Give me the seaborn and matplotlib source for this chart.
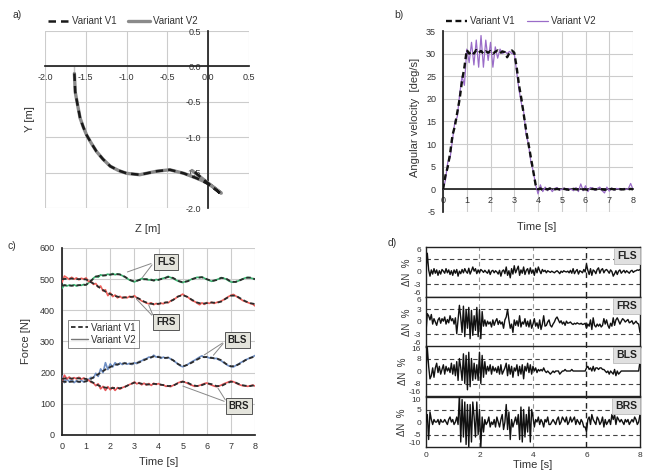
import numpy as np
import matplotlib
matplotlib.use("Agg")
import matplotlib.pyplot as plt
from matplotlib.lines import Line2D
import seaborn as sns

# a) trajectory  Z [m] / Y [m]
traj_z_v1 = [-1.64, -1.64, -1.63, -1.60, -1.57, -1.53, -1.49, -1.43, -1.37, -1.29, -1.20,
             -1.10, -1.00, -0.84, -0.63, -0.47, -0.30, -0.14, -0.02, 0.08, 0.165, -0.18]
traj_y_v1 = [0.0, -0.20, -0.36, -0.55, -0.73, -0.86, -0.97, -1.09, -1.20, -1.31, -1.41,
             -1.47, -1.51, -1.53, -1.48, -1.46, -1.51, -1.58, -1.65, -1.73, -1.81, -1.48]
traj_z_v2 = [-1.64, -1.64, -1.63, -1.60, -1.57, -1.53, -1.49, -1.43, -1.37, -1.29, -1.20,
             -1.10, -1.00, -0.84, -0.63, -0.47, -0.30, -0.14, -0.02, 0.08, 0.16, -0.20]
traj_y_v2 = [0.0, -0.20, -0.36, -0.55, -0.73, -0.86, -0.97, -1.09, -1.20, -1.31, -1.41,
             -1.47, -1.51, -1.53, -1.48, -1.46, -1.51, -1.58, -1.64, -1.72, -1.79, -1.47]

# b) angular velocity [deg/s], every 0.1 s
omega_v1 = [0, 3, 5, 8, 12, 14, 17, 20, 24, 27,
            30.8, 30, 30.5, 30, 30.8, 30.2, 30.6, 30, 30.5, 30.2,
            30.6, 30, 30.4, 30.7, 30.1, 30.5, 30.3, 29.2, 30.2, 30.7,
            30.2, 27, 23, 20, 16.5, 13, 10, 7, 4, 1,
            0, 0.2, -0.2, 0.1, 0, 0.2, -0.1, 0, 0.1, 0,
            0, 0.1, 0, -0.1, 0, 0.1, 0, 0, 0.1, 0,
            0, -0.1, 0, 0.1, 0, 0, 0.1, 0, -0.1, 0,
            0, 0.1, 0, 0, 0.1, 0, 0, 0.1, 0, 0.1,
            0]
omega_v2 = [0, 2, 6, 7, 11, 15, 16, 21, 25, 23,
            31, 28, 32.5, 27.5, 33, 27, 34, 27, 33, 28.5,
            32.5, 27, 31.5, 29, 31, 30, 30.5, 30, 30.5, 30,
            30, 26, 22, 19, 17, 12, 10, 6, 4, 1,
            -1, 1, -0.5, 0.5, -0.3, 0.3, -0.5, 0.2, 0.4, -0.2,
            0, 0.3, -0.2, 0.2, 0, -0.3, 0.4, -0.5, 1.2, -0.3,
            0.8, -0.5, 0.4, 0.3, -0.2, 0.2, 0.5, -0.3, -0.8, 0.5,
            -0.4, 0.3, -0.2, 0.2, 0.1, -0.1, 0.2, 0, 0.1, 1.3,
            0]

# c) wheel forces [N]; V1 every 0.2 s, V2 every 0.1 s
fls_v1 = [480, 480, 479, 480, 481, 482, 495, 508, 512, 512, 515, 516, 515, 508, 498, 492,
          497, 500, 498, 496, 498, 502, 507, 504, 495, 490, 493, 500, 505, 506, 500, 494,
          497, 504, 502, 492, 491, 497, 504, 505, 500]
frs_v1 = [500, 501, 502, 500, 500, 499, 490, 482, 470, 460, 452, 446, 442, 441, 443, 444,
          437, 428, 422, 420, 421, 424, 426, 433, 444, 449, 443, 433, 425, 421, 423, 425,
          424, 428, 438, 447, 447, 438, 429, 423, 420]
bls_v1 = [172, 170, 171, 172, 170, 172, 180, 190, 200, 210, 218, 225, 228, 230, 228, 230,
          233, 240, 247, 252, 250, 247, 248, 240, 228, 220, 225, 233, 242, 250, 250, 247,
          246, 240, 228, 220, 222, 230, 240, 247, 252]
brs_v1 = [180, 182, 181, 182, 181, 180, 172, 163, 156, 152, 150, 151, 150, 154, 162, 168,
          166, 163, 162, 164, 163, 160, 157, 158, 166, 171, 168, 160, 157, 160, 166, 163,
          157, 157, 165, 171, 168, 161, 158, 157, 160]
fls_v2 = [470, 482, 478, 481, 479, 482, 478, 481, 480, 483,
          481, 488, 494, 503, 509, 506, 514, 511, 513, 516,
          513, 518, 514, 517, 515, 511, 507, 502, 497, 494,
          491, 495, 498, 502, 499, 501, 497, 499, 495, 499,
          497, 501, 503, 505, 509, 505, 503, 498, 494, 491,
          489, 492, 494, 497, 501, 503, 506, 505, 507, 503,
          499, 496, 493, 495, 498, 501, 505, 503, 500, 495,
          491, 490, 492, 494, 498, 501, 504, 506, 504, 502,
          499]
frs_v2 = [490, 510, 505, 499, 506, 500, 504, 498, 503, 500,
          504, 492, 494, 483, 486, 474, 478, 462, 466, 447,
          456, 444, 449, 440, 445, 439, 443, 440, 445, 441,
          447, 440, 436, 430, 427, 423, 421, 424, 418, 422,
          419, 423, 421, 426, 424, 430, 434, 438, 444, 447,
          452, 446, 443, 437, 431, 428, 423, 418, 424, 419,
          425, 422, 426, 422, 425, 427, 430, 434, 439, 444,
          448, 451, 446, 441, 436, 431, 428, 425, 422, 420,
          414]
bls_v2 = [190, 168, 180, 170, 176, 168, 174, 169, 175, 170,
          174, 178, 185, 182, 198, 188, 212, 200, 232, 210,
          228, 218, 232, 224, 231, 226, 232, 227, 230, 226,
          232, 229, 236, 238, 243, 245, 250, 248, 256, 250,
          252, 246, 250, 246, 249, 244, 240, 234, 228, 222,
          219, 222, 226, 231, 236, 240, 245, 250, 254, 249,
          251, 247, 249, 245, 246, 241, 238, 232, 227, 222,
          220, 218, 223, 227, 232, 236, 241, 244, 248, 251,
          255]
brs_v2 = [170, 192, 180, 186, 179, 184, 180, 185, 179, 183,
          178, 176, 169, 167, 158, 164, 148, 156, 143, 155,
          145, 153, 143, 152, 147, 152, 155, 158, 162, 165,
          170, 164, 168, 161, 166, 160, 165, 159, 166, 162,
          165, 160, 161, 156, 157, 155, 159, 162, 167, 170,
          172, 169, 166, 162, 159, 156, 157, 159, 162, 165,
          167, 163, 160, 157, 155, 157, 160, 164, 167, 170,
          173, 171, 167, 163, 160, 158, 157, 156, 158, 160,
          157]

# d) relative difference dN [%], every 0.05 s
dn_fls = [0, 4.5, 0.5, -1, 0.5, -0.5, 0.8, -0.3, 0.5, -0.8, 0.3, -0.5, 0.6, 0.2, -0.3, 0.8, -0.2, 0.5, -0.6, 0.3,
          -0.8, 0.5, -0.3, 0.6, -1.0, 0.2, -0.4, 0.6, -0.2, 0.8, 0.1, -0.3, 0.9, -0.5, 0.3, 1.2, 0.2, 0.8, -0.4, 0.5,
          -0.2, 0.6, 0.3, -0.1, 0.4, 0.0, -0.3, 0.5, -0.6, 0.2, 0.4, -0.2, 0.3, 0.0, -0.5, 0.4, -1.0, 0.2, 0.5, -0.4,
          1.2, -0.8, 0.3, -1.4, 0.8, -0.5, 1.5, -0.2, 0.6, 1.4, -0.8, 0.5, -0.3, 1.2, -0.6, 0.4, 0.8, -0.5, 1.0, -0.3,
          0.5, -0.8, 0.9, -0.2, 1.2, 0.3, -0.4, 0.6, 0.1, 0.4, -0.2, 0.3, 0.1, -0.1, 0.2, 0.0, -0.2, 0.1, 0.3, 0.0,
          -0.4, 0.2, -0.1, 0.3, 0.1, 0.0, 0.2, -0.2, 0.4, -0.3, 0.8, -0.4, 0.2, 0.6, -0.5, 0.3, 0.1, -0.2, 0.6, 0.0,
          1.8, 0.4, -0.6, 0.8, -0.8, 0.5, 0.2, -0.4, 0.6, 1.0, -0.3, 0.5, 0.8, -0.2, 0.4, 0.6, 0.2, -0.3, 0.5, 0.1,
          -1.0, -0.4, 0.3, -0.6, 0.2, 0.5, -0.3, 0.1, 0.4, -0.2, 0.3, 0.0, -0.3, 0.2, 0.4, -0.1, 0.2, 0.3, 0.5, 0.4,
          0.6]
dn_frs = [-2.5, 2.0, 1.5, 0.5, 1.8, -0.5, 0.8, 0.0, -0.8, 0.5, 1.0, -0.3, 0.8, 0.2, 1.2, -0.5, 0.6, -0.2, 1.5, 0.3,
          0.8, -0.5, 1.0, -2.8, 0.5, 4.0, 1.0, -2.5, 3.8, -3.5, 3.0, -1.5, 3.5, -4.0, 2.8, -3.2, 1.5, -2.0, 3.5, -3.5,
          3.0, -4.0, 2.5, -1.0, 0.5, -1.0, 0.2, -0.5, 0.0, -1.2, 0.5, -0.8, 0.2, 0.8, -0.6, 0.3, -0.5, 0.0, -1.5, 0.5,
          1.2, 3.0, 0.5, -1.5, -0.5, -2.5, 0.5, -0.8, 0.3, -1.0, 1.5, -1.2, 0.0, -0.5, 0.8, -1.0, 0.2, -1.2, 0.5, -1.5,
          -0.5, 0.8, -1.0, -0.2, -1.5, 0.5, -1.8, -0.5, 1.5, -1.0, -0.8, 0.0, 0.5, -0.8, -1.2, -0.5, 0.0, 0.8, 1.2, 0.5,
          -0.2, 0.3, -0.5, 0.0, -0.8, 0.2, -0.3, -0.2, 0.0, -0.4, -0.6, -0.3, -0.5, -0.2, -0.4, -0.5, -0.3, -0.6, -0.5, -0.3,
          -1.5, -0.5, -1.0, 0.5, -1.8, 1.0, -0.8, -1.2, -0.5, -1.0, -0.5, -1.2, -0.8, 0.8, -0.5, 0.5, -0.8, -1.5, -0.3, -1.0,
          1.0, -0.8, 0.5, 1.0, 0.3, -0.5, 0.2, 0.8, 0.5, 0.0, 0.3, 0.6, -0.2, 0.0, 0.3, -0.5, -0.2, 0.2, -0.3, -0.5,
          -2.5]
dn_bls = [0, 15, 3, -5, -3, 2, -4, 2, 5, -1, 3, -2, 1, 4, -2, 3, 0, 2, -1, 5,
          -2, 4, -3, 6, -6, 8, 2, -6, 11, -8, 10, -12, 12, -10, 8, -6, 5, -5, 4, -6,
          12, -8, 10, -4, 6, -2, 3, 0, 4, -2, 3, 0, 2, -1, 3, -2, 4, -2, 0, 2,
          5, -3, 4, -2, 3, -4, 2, 0, 4, -3, 3, -2, 4, -5, 3, 0, 5, -1, 4, -2,
          3, 0, 2, -1, 1, 0, 1, 0, 2, 0, -1, 0, -1, -2, -1, 0, -1, 0, 0, 0,
          -2, -1, 0, 0, 1, 0, 0, 0, 0, 1, 0, 0, 0, 0, 0, 0, 0, 0, 0, 0,
          2, 3, 1, 2, 0, 3, 0, 2, 2, 1, 2, 2, 1, 1, 0, -1, 0, -2, 0, -1,
          -2, 1, -3, 0, -2, -1, 0, 0, 0, 0, 0, 0, 0, 0, 0, 0, 0, 0, 0, 0,
          6]
dn_brs = [0, 3, -7, 4, 1, -1, 1, 0, 0, 1, -1, 1, 0, 0, 1, 0, -1, 1, 2, 0,
          1, -1, 0, 2, -1, 11, -8, 9, -6, 8, -9, 7, -10, 7, -8, 8, 2, -6, 8, -5,
          5, -10, 2, -4, 1, -1, 0, 2, -2, 0, -1, 1, -2, 2, 0, -2, 1, 3, -3, 0,
          7, -3, 4, -7, 1, -2, 0, 2, -1, 3, -7, 6, -8, 5, -6, 3, -4, 6, -8, 5,
          2, -2, 1, 0, 2, -1, 1, 0, -2, 1, 0, 2, -1, -1, 0, 1, 0, -1, 1, 2,
          -1, 0, 2, 1, 0, 2, -1, 0, 2, 0, 1, 2, -1, 1, 0, -1, 1, 0, -2, -2,
          -4, 1, 2, -1, 3, 1, 0, -1, 2, 1, -1, 0, 2, -2, 1, -1, 0, 1, -1, 3,
          1, 3, -1, 2, 1, 0, 1, 0, -1, 1, 0, 1, -1, 0, 1, 0, 2, 1, -1, 0,
          3]

sns.set_theme(style="white")
plt.rcParams['font.family'] = ['Liberation Sans', 'DejaVu Sans']
plt.rcParams['axes.unicode_minus'] = False
GRID = '#cccccc'
TXT = '#333333'

fig = plt.figure(figsize=(6.46, 4.70), dpi=100)

# ---------- a) ----------
ax = fig.add_axes([0.0697, 0.5574, 0.3158, 0.3766])
sns.lineplot(x=traj_z_v1, y=traj_y_v1, sort=False, color='#1a1a1a', lw=1.8,
             linestyle=(0, (3, 2)), ax=ax, label='Variant V1', zorder=4)
sns.lineplot(x=traj_z_v2, y=traj_y_v2, sort=False, color='#8a8a8a', lw=2.4,
             ax=ax, label='Variant V2', zorder=3)
ax.set_xlim(-2, 0.5)
ax.set_ylim(-2, 0.5)
ax.set_xticks(np.arange(-2, 0.51, 0.5))
ax.set_yticks(np.arange(-2, 0.51, 0.5))
ax.set_xticklabels(['%.1f' % v for v in np.arange(-2, 0.51, 0.5)])
ax.set_yticklabels(['%.1f' % v for v in np.arange(-2, 0.51, 0.5)])
ax.spines['left'].set_position(('data', 0))
ax.spines['bottom'].set_position(('data', 0))
for s in ['top', 'right']:
    ax.spines[s].set_visible(False)
for s in ['left', 'bottom']:
    ax.spines[s].set_color('#222222')
ax.grid(True, color=GRID, lw=0.8)
ax.tick_params(labelsize=6.5, labelcolor=TXT, length=3, direction='inout', width=0.6)
ax.set_xlabel('Z [m]', fontsize=8, color=TXT)
ax.set_ylabel('Y [m]', fontsize=8, color=TXT)
ax.xaxis.set_label_coords(0.505, -0.09)
ax.yaxis.set_label_coords(-0.05, 0.5)
ax.legend(loc='lower left', bbox_to_anchor=(-0.01, 1.0), ncol=2, frameon=False,
          fontsize=7, handlelength=2.2, columnspacing=1.2, borderaxespad=0.1,
          handletextpad=0.3, labelcolor=TXT)

# ---------- b) ----------
ax = fig.add_axes([0.6858, 0.549, 0.2941, 0.385])
t_b = np.arange(len(omega_v1)) * 0.1
sns.lineplot(x=t_b, y=omega_v1, color='#111111', lw=1.7, linestyle=(0, (2.5, 1.5)),
             ax=ax, label='Variant V1', zorder=4)
sns.lineplot(x=t_b, y=omega_v2, color='#9a6cc8', lw=0.9, ax=ax, label='Variant V2', zorder=3)
ax.set_xlim(0, 8)
ax.set_ylim(-5, 35)
ax.set_xticks(range(0, 9))
ax.set_yticks(range(-5, 36, 5))
ax.set_yticks(range(-5, 36, 1), minor=True)
ax.set_xticks(np.arange(0, 8.01, 0.5), minor=True)
ax.spines['bottom'].set_position(('data', 0))
for s in ['top', 'right']:
    ax.spines[s].set_visible(False)
for s in ['left', 'bottom']:
    ax.spines[s].set_color('#222222')
ax.grid(True, which='major', color=GRID, lw=0.8)
ax.tick_params(which='both', labelsize=6.5, labelcolor=TXT, direction='inout', width=0.6)
ax.tick_params(which='major', length=3)
ax.tick_params(which='minor', length=1.5)
ax.set_xlabel('Time [s]', fontsize=8, color=TXT)
ax.set_ylabel('Angular velocity  [deg/s]', fontsize=8, color=TXT)
ax.xaxis.set_label_coords(0.495, -0.055)
ax.yaxis.set_label_coords(-0.12, 0.52)
ax.legend(loc='lower left', bbox_to_anchor=(-0.01, 1.0), ncol=2, frameon=False,
          fontsize=7, handlelength=2.2, columnspacing=1.2, borderaxespad=0.1,
          handletextpad=0.3, labelcolor=TXT)

# ---------- c) ----------
ax = fig.add_axes([0.096, 0.0745, 0.2988, 0.3979])
t_c1 = np.arange(len(fls_v1)) * 0.2
t_c2 = np.arange(len(fls_v2)) * 0.1
pairs = [(fls_v1, fls_v2, '#3cb371'), (frs_v1, frs_v2, '#f0605a'),
         (bls_v1, bls_v2, '#6f8fc4'), (brs_v1, brs_v2, '#e8585a')]
for v1, v2, col in pairs:
    sns.lineplot(x=t_c2, y=v2, color=col, lw=1.2, ax=ax, zorder=3)
    sns.lineplot(x=t_c1, y=v1, color='#2b2b2b', lw=1.3, linestyle=(0, (2.5, 1.5)),
                 ax=ax, zorder=4)
ax.set_xlim(0, 8)
ax.set_ylim(0, 600)
ax.set_xticks(range(0, 9))
ax.set_yticks(range(0, 601, 100))
ax.set_xticks(np.arange(0, 8.01, 0.5), minor=True)
ax.set_yticks(range(0, 601, 25), minor=True)
for s in ['top', 'right']:
    ax.spines[s].set_visible(False)
for s in ['left', 'bottom']:
    ax.spines[s].set_color('#222222')
ax.grid(True, which='major', color=GRID, lw=0.8)
ax.tick_params(which='both', labelsize=6.5, labelcolor=TXT, direction='inout', width=0.6)
ax.tick_params(which='major', length=3)
ax.tick_params(which='minor', length=1.5)
ax.set_xlabel('Time [s]', fontsize=8, color=TXT)
ax.set_ylabel('Force [N]', fontsize=8, color=TXT)
ax.xaxis.set_label_coords(0.5, -0.12)
ax.yaxis.set_label_coords(-0.16, 0.5)
handles = [Line2D([], [], color='#2b2b2b', lw=1.3, linestyle=(0, (2.5, 1.5))),
           Line2D([], [], color='#777777', lw=1.0)]
leg = ax.legend(handles, ['Variant V1', 'Variant V2'], loc='upper left',
                bbox_to_anchor=(0.03, 0.615), fontsize=7, frameon=True, fancybox=False,
                handlelength=1.8, handletextpad=0.3, borderpad=0.3, labelspacing=0.2,
                borderaxespad=0, labelcolor=TXT)
leg.get_frame().set_edgecolor('#555555')
leg.get_frame().set_linewidth(0.6)

box = dict(boxstyle='square,pad=0.3', fc='#e4e4dc', ec='#555555', lw=0.7)
labels_c = [('FLS', (4.31, 555), [(2.6, 520), (3.25, 497)], (3.8, 553)),
            ('FRS', (4.31, 363), [(3.0, 443), (3.55, 425)], (3.8, 378)),
            ('BLS', (7.26, 305), [(5.8, 252), (6.2, 249)], (6.75, 300)),
            ('BRS', (7.34, 93), [(4.9, 160), (6.4, 158)], (6.83, 105))]
for name, pos, targets, anchor in labels_c:
    ax.text(pos[0], pos[1], name, fontsize=7, fontweight='bold', color='#222222',
            ha='center', va='center', bbox=box, zorder=6)
    for tx, ty in targets:
        ax.annotate('', xy=(tx, ty), xytext=anchor,
                    arrowprops=dict(arrowstyle='-', color='#888888', lw=0.7), zorder=5)

# ---------- d) ----------
t_d = np.arange(len(dn_fls)) * 0.05
rows_d = [('FLS', dn_fls, 6, 3, [-6, -3, 0, 3, 6], 0.3681),
          ('FRS', dn_frs, 6, 3, [-6, -3, 0, 3, 6], 0.2617),
          ('BLS', dn_bls, 16, 8, [-16, -8, 0, 8, 16], 0.1574),
          ('BRS', dn_brs, 10, 5, [-10, -5, 0, 5, 10], 0.0489)]
for i, (name, vals, lim, ref, ticks, bottom) in enumerate(rows_d):
    ax = fig.add_axes([0.6594, bottom, 0.3313, 0.1064])
    sns.lineplot(x=t_d, y=vals, color='#111111', lw=1.0, ax=ax, zorder=3)
    ax.set_xlim(0, 8)
    ax.set_ylim(-lim, lim)
    ax.set_yticks(ticks)
    ax.set_xticks([0, 2, 4, 6, 8])
    for yy in (-ref, ref):
        ax.axhline(yy, color='#444444', lw=0.8, ls=(0, (4, 3)), zorder=1)
    for xx in (2, 4):
        ax.axvline(xx, color='#999999', lw=0.8, ls=(0, (4, 3)), zorder=1)
    ax.axvline(6, color='#222222', lw=1.0, ls=(0, (4, 3)), zorder=1)
    for s in ax.spines.values():
        s.set_color('#222222')
        s.set_linewidth(1.0)
    ax.tick_params(labelsize=6, labelcolor=TXT, length=2, width=0.6, pad=1.5)
    ylabs = ax.get_yticklabels()
    ylabs[0].set_verticalalignment('bottom')
    ylabs[-1].set_verticalalignment('top')
    if i < 3:
        ax.set_xticklabels([])
        ax.tick_params(axis='x', length=0)
    else:
        ax.set_xlabel('Time [s]', fontsize=8, color=TXT, labelpad=1)
    ax.set_ylabel('ΔN  %', fontsize=7, color=TXT, labelpad=1)
    ax.text(0.985, 0.92, name, transform=ax.transAxes, fontsize=7.5, fontweight='bold',
            color='#222222', ha='right', va='top',
            bbox=dict(boxstyle='square,pad=0.3', fc='#e0e0e0', ec='#bbbbbb', lw=0.6), zorder=6)

fig.text(0.019, 0.979, 'a)', fontsize=7.5, color=TXT, va='top')
fig.text(0.611, 0.979, 'b)', fontsize=7.5, color=TXT, va='top')
fig.text(0.012, 0.487, 'c)', fontsize=7.5, color=TXT, va='top')
fig.text(0.600, 0.494, 'd)', fontsize=7.5, color=TXT, va='top')

fig.savefig('out.png', dpi=100)
